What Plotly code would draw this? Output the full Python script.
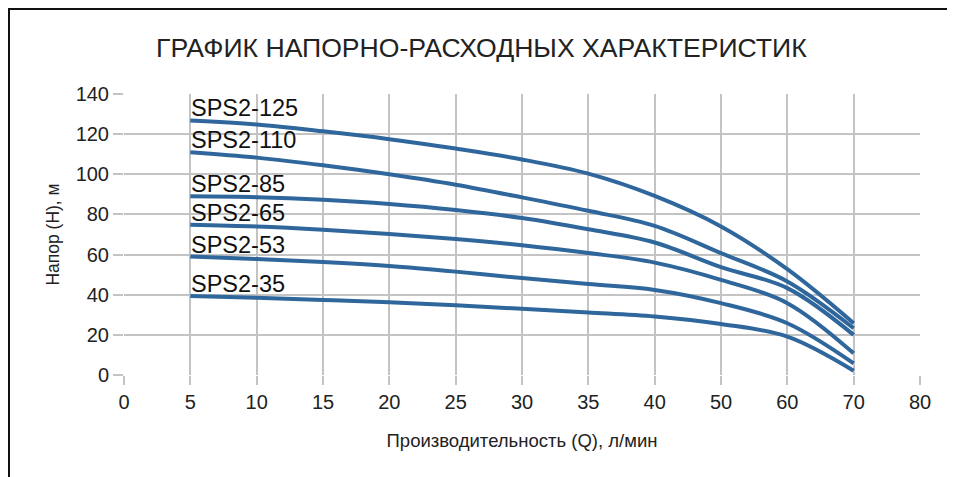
import plotly.graph_objects as go

categories = ["0", "5", "10", "15", "20", "25", "30", "35", "40", "50", "60", "70", "80"]
flow = ["5", "10", "15", "20", "25", "30", "35", "40", "50", "60", "70"]

series_names = ["SPS2-125", "SPS2-110", "SPS2-85", "SPS2-65", "SPS2-53", "SPS2-35"]
sps2_125 = [126.8, 124.8, 121.4, 117.5, 112.8, 107.4, 100.3, 89.2, 74.0, 52.7, 25.8]
sps2_110 = [111.0, 108.3, 104.5, 100.0, 94.8, 88.5, 81.8, 74.3, 60.7, 46.6, 23.3]
sps2_85 = [89.0, 88.6, 87.3, 85.2, 82.2, 78.2, 72.6, 66.0, 53.7, 43.3, 20.0]
sps2_65 = [74.9, 74.0, 72.4, 70.3, 67.8, 64.7, 60.8, 56.0, 47.4, 35.8, 10.8]
sps2_53 = [59.0, 57.8, 56.3, 54.3, 51.5, 48.3, 45.3, 42.4, 35.8, 25.8, 5.8]
sps2_35 = [39.4, 38.5, 37.4, 36.2, 34.7, 33.0, 31.2, 29.2, 25.4, 19.1, 2.1]
series_values = [sps2_125, sps2_110, sps2_85, sps2_65, sps2_53, sps2_35]

y_ticks = [0, 20, 40, 60, 80, 100, 120, 140]

title_text = "ГРАФИК НАПОРНО-РАСХОДНЫХ ХАРАКТЕРИСТИК"
x_title = "Производительность (Q), л/мин"
y_title = "Напор (Н), м"

line_color = "#2f679c"
grid_color = "#c3c3c3"
font_family = "Liberation Sans, Arial, sans-serif"

# page body has an 8px default margin; compensate so the figure lands in place
OFF = 8
W, H = 955 - OFF, 477 - OFF
ml, mr, mt, mb = 124 - OFF, 35, 94 - OFF, 102
pw, ph = W - ml - mr, H - mt - mb


def px_to_paper_x(px):
    return (px - OFF - ml) / pw


def px_to_paper_y(py):
    return (H - mb - (py - OFF)) / ph


fig = go.Figure()
for name, vals in zip(series_names, series_values):
    fig.add_trace(go.Scatter(
        x=flow, y=vals, mode="lines", name=name,
        line=dict(color=line_color, width=4, shape="spline", smoothing=1.0),
        hoverinfo="x+y+name",
    ))
    fig.add_annotation(
        x=categories.index(flow[0]), y=vals[0], text=name, showarrow=False,
        xanchor="left", yanchor="bottom", xshift=-1, yshift=-3,
        font=dict(family=font_family, size=23.5, color="#111111"),
    )

# outer frame: only its left and top edges fall inside the picture
frame = dict(color="#111111", width=2)
fig.add_shape(type="line", xref="paper", yref="paper",
              x0=px_to_paper_x(9), x1=px_to_paper_x(9),
              y0=px_to_paper_y(480), y1=px_to_paper_y(8), line=frame, layer="below")
fig.add_shape(type="line", xref="paper", yref="paper",
              x0=px_to_paper_x(8), x1=px_to_paper_x(956),
              y0=px_to_paper_y(9), y1=px_to_paper_y(9), line=frame, layer="below")

fig.add_annotation(
    x=px_to_paper_x(481), y=px_to_paper_y(48), xref="paper", yref="paper",
    text=title_text, showarrow=False, xanchor="center", yanchor="middle",
    font=dict(family=font_family, size=26.6, color="#222222"),
)

fig.update_layout(
    width=W, height=H,
    margin=dict(l=ml, r=mr, t=mt, b=mb),
    paper_bgcolor="white", plot_bgcolor="white",
    showlegend=False,
    font=dict(family=font_family, color="#222222"),
    xaxis=dict(
        type="category", categoryorder="array", categoryarray=categories,
        range=[0, len(categories) - 1],
        showgrid=True, gridcolor=grid_color, gridwidth=1.5,
        ticks="outside", ticklen=9, tickcolor=grid_color, tickwidth=1.5,
        tickfont=dict(size=20, color="#222222"),
        showline=False, zeroline=False,
        title=dict(text=x_title, font=dict(size=18.5, color="#222222"), standoff=22),
    ),
    yaxis=dict(
        range=[0, 140], tickvals=y_ticks,
        showgrid=True, gridcolor=grid_color, gridwidth=1.5,
        ticks="outside", ticklen=10, tickcolor=grid_color, tickwidth=1.5,
        tickfont=dict(size=20, color="#222222"),
        showline=False, zeroline=False,
        title=dict(text=y_title, font=dict(size=17.5, color="#222222"), standoff=11),
    ),
)

fig.write_html("out.html")
